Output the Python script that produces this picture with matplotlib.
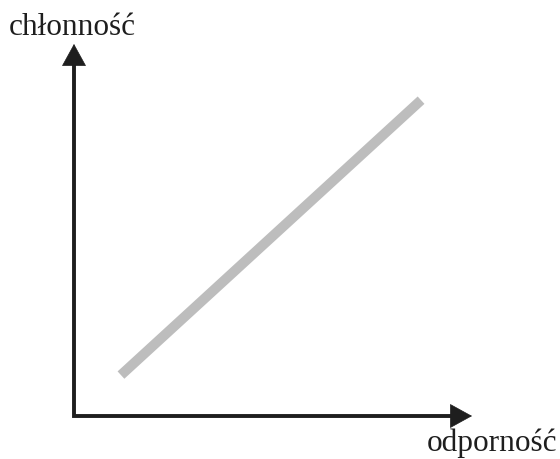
import matplotlib.pyplot as plt

# wykres schematyczny: chłonność vs odporność
odpornosc = [0.118, 0.872]
chlonnosc = [0.110, 0.849]
etykieta_x = "odporność"
etykieta_y = "chłonność"

fig = plt.figure(figsize=(5.6, 4.59), dpi=100)
ax = fig.add_axes([74 / 560, 43 / 459, 398 / 560, 372 / 459])
ax.set_xlim(0, 1)
ax.set_ylim(0, 1)
ax.axis("off")

ax.plot(odpornosc, chlonnosc, color="#bdbdbd", lw=7.2, solid_capstyle="butt")

# osie w kształcie litery L, groty osobno
ax.plot([0, 0, 0.96], [0.96, 0, 0], color="#1e1e1e", lw=2.8,
        solid_joinstyle="miter", solid_capstyle="butt", clip_on=False)
grot = dict(arrowstyle="-|>,head_length=1.0,head_width=0.55", mutation_scale=15,
            lw=0.5, color="#1e1e1e", shrinkA=0, shrinkB=0)
ax.annotate("", xy=(1, 0), xytext=(0.9, 0), xycoords="axes fraction", arrowprops=grot)
ax.annotate("", xy=(0, 1), xytext=(0, 0.9), xycoords="axes fraction", arrowprops=grot)

fig.text(9 / 560, 1 - 35 / 459, etykieta_y, fontsize=22.5, family="Liberation Serif",
         color="#1e1e1e", ha="left", va="baseline")
fig.text(557 / 560, 1 - 451 / 459, etykieta_x, fontsize=22.5, family="Liberation Serif",
         color="#1e1e1e", ha="right", va="baseline")

fig.savefig("out.png", dpi=100)
